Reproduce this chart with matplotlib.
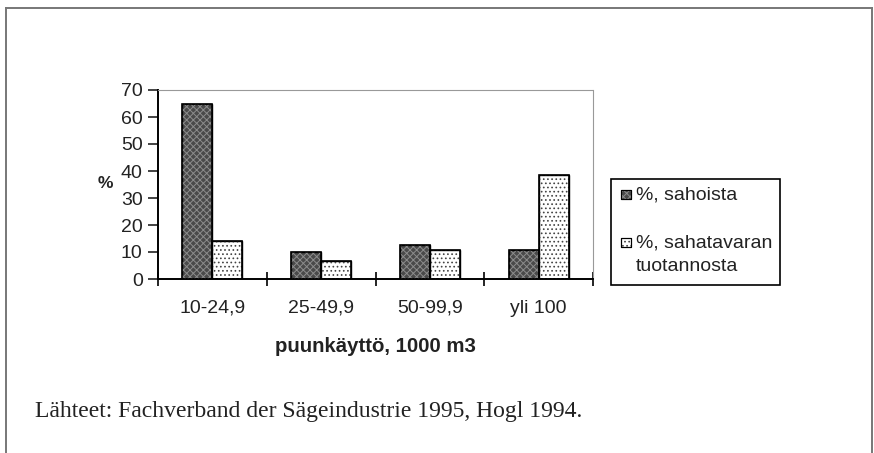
import numpy as np
import matplotlib
matplotlib.use('Agg')
import matplotlib.pyplot as plt
from matplotlib.lines import Line2D
from matplotlib.patches import Rectangle

# data
categories = ['10-24,9', '25-49,9', '50-99,9', 'yli 100']
sahoista = [65, 10, 12.5, 10.7]
sahatavara = [14, 6.8, 10.7, 38.5]
labels = ['%, sahoista', '%, sahatavaran\ntuotannosta']
yticks = [0, 10, 20, 30, 40, 50, 60, 70]
source = 'Lähteet: Fachverband der Sägeindustrie 1995, Hogl 1994.'

plt.rcParams['font.family'] = ['Liberation Sans', 'DejaVu Sans']
plt.rcParams['hatch.linewidth'] = 0.7

W, H = 874, 453
fig = plt.figure(figsize=(W / 100, H / 100), dpi=100)


def px(x, y):
    # pixel coords (from top-left) -> figure fraction
    return x / W, 1 - y / H


# outer frame (left, top, right; bottom runs off the page)
fx0, fx1, fy = 6 / W, 872 / W, 1 - 8 / H
for xs, ys in [([fx0, fx0], [0, fy]), ([fx0, fx1], [fy, fy]), ([fx1, fx1], [fy, 0])]:
    fig.add_artist(Line2D(xs, ys, transform=fig.transFigure, color='#777777', lw=1.4))

ax = fig.add_axes([158 / W, 1 - 279 / H, 435 / W, 189 / H])

x = np.arange(len(categories))
bw = 0.276

styles = [dict(face='#4a4a4a', hatch='xxxxx', hcol='#8c8c8c'),
          dict(face='white', hatch='....', hcol='#444444')]
offsets = [-bw / 2, bw / 2]

for vals, st, off in zip([sahoista, sahatavara], styles, offsets):
    ax.bar(x + off, vals, bw, color=st['face'], edgecolor='black', lw=1.0, zorder=2)
    ax.bar(x + off, vals, bw, fill=False, hatch=st['hatch'], edgecolor=st['hcol'], lw=0, zorder=3)
    ax.bar(x + off, vals, bw, fill=False, edgecolor='black', lw=1.2, zorder=4)

ax.set_xlim(-0.5, len(categories) - 0.5)
ax.set_ylim(0, 70)
ax.set_yticks(yticks)
ax.tick_params(axis='y', direction='out', length=7, width=1.2, pad=4, labelsize=14, colors='#222222')

ax.set_xticks(x)
ax.set_xticklabels(categories)
ax.set_xticks(np.arange(len(categories) + 1) - 0.5, minor=True)
ax.tick_params(axis='x', which='major', length=0, pad=15, labelsize=14, colors='#222222')
ax.tick_params(axis='x', which='minor', direction='inout', length=10, width=1.2)

ax.spines['left'].set_linewidth(1.4)
ax.spines['bottom'].set_linewidth(1.4)
for side in ('top', 'right'):
    ax.spines[side].set_color('#999999')
    ax.spines[side].set_linestyle((0, (1, 1)))
    ax.spines[side].set_linewidth(0.8)

fig.text(*px(375, 347), 'puunkäyttö, 1000 m3', ha='center', va='center',
         fontsize=14.7, fontweight='bold', color='#222222')
fig.text(*px(105, 183), '%', ha='center', va='center', fontsize=12.5,
         fontweight='bold', color='#222222')

# legend box, drawn by hand so the swatch sits on the first text line
fx, fyb = px(611, 285)
fig.add_artist(Rectangle((fx, fyb), 169 / W, 106 / H, transform=fig.transFigure,
                         fill=False, edgecolor='black', lw=1.2))
sw, sh = 10 / W, 9 / H
for lab, st, yc in zip(labels, styles, [194, 242]):
    sx, sy = px(621, yc + 4.5)
    fig.add_artist(Rectangle((sx, sy), sw, sh, transform=fig.transFigure,
                             facecolor=st['face'], edgecolor='black', lw=0.8))
    fig.add_artist(Rectangle((sx, sy), sw, sh, transform=fig.transFigure,
                             fill=False, hatch=st['hatch'], edgecolor=st['hcol'], lw=0))
    fig.add_artist(Rectangle((sx, sy), sw, sh, transform=fig.transFigure,
                             fill=False, edgecolor='black', lw=0.8))
    tx, ty = px(636, yc - 8)
    fig.text(tx, ty, lab, ha='left', va='top', fontsize=14, linespacing=1.55,
             color='#222222')

fig.text(*px(35, 412), source, ha='left', va='center', fontsize=17,
         family='Liberation Serif', color='#222222')

fig.savefig('out.png', dpi=100)
